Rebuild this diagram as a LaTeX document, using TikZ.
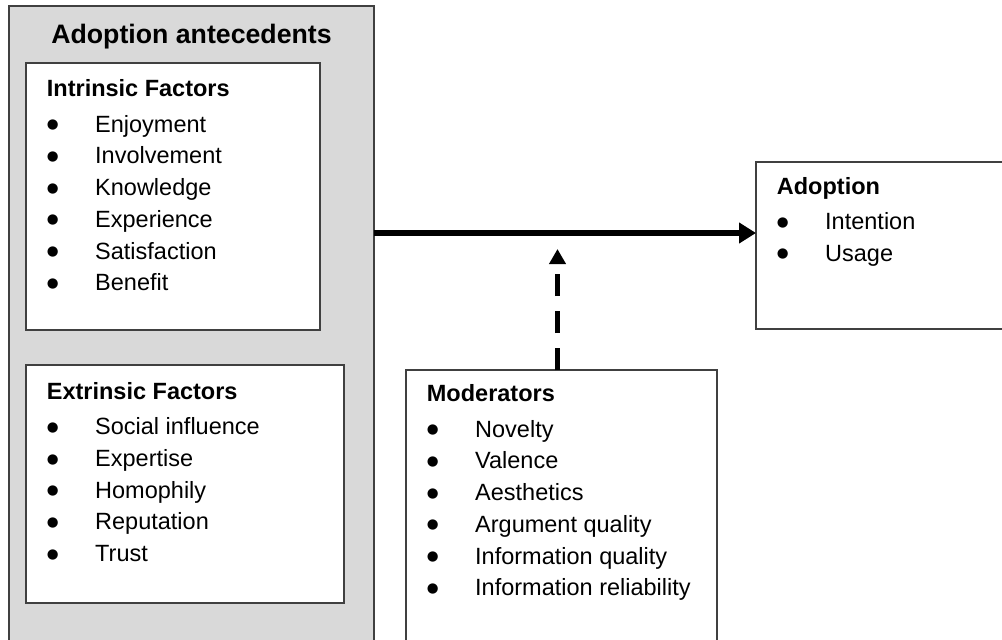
\documentclass[tikz,border=0pt]{standalone}
\usepackage{fontspec}
\setmainfont{Liberation Sans}
\newfontfamily\bulletfont{DejaVu Sans}
\usetikzlibrary{arrows.meta}
\definecolor{boxgray}{RGB}{217,217,217}
\definecolor{edgegray}{RGB}{64,64,64}
\newcommand\blt{\raisebox{3.5pt}{\bulletfont\fontsize{13.5}{13.5}\selectfont ●}}
\newcommand\itemlist[2]{\begin{tabular}[t]{@{}p{48.3pt}@{}l@{}}\multicolumn{2}{@{}l@{}}{\bfseries #1}\\[3.8pt] #2\end{tabular}}
\begin{document}
\begin{tikzpicture}[x=1pt,y=-1pt,
  box/.style={draw=edgegray, line width=1.5pt, fill=white, inner sep=0, outer sep=0, anchor=north west, rectangle},
  lst/.style={inner sep=0, anchor=base west, font=\fontsize{23.5}{31.7}\selectfont},
  ttl/.style={inner sep=0, anchor=base, font=\bfseries\fontsize{26.7}{32}\selectfont},
  mainarrow/.style={line width=5.5pt, -{Triangle[length=17pt,width=20pt]}},
  modarrow/.style={line width=5pt, dash pattern=on 22pt off 15pt, -{Triangle[length=15pt,width=16pt]}}]
\clip (0,0) rectangle (1002,640);
\fill[white] (0,0) rectangle (1002,640);
% outer grey container
\node[box, fill=boxgray, minimum width=365pt, minimum height=660pt] (ante) at (9,6) {};
\node[ttl] (antetitle) at (191.5,43) {Adoption antecedents};
% intrinsic
\node[box, minimum width=294pt, minimum height=267pt] (intr) at (26,63) {};
\node[lst] (intrtext) at (46.7,96.7) {\itemlist{Intrinsic Factors}{\blt & Enjoyment\\ \blt & Involvement\\ \blt & Knowledge\\ \blt & Experience\\ \blt & Satisfaction\\ \blt & Benefit}};
% extrinsic
\node[box, minimum width=318pt, minimum height=238pt] (extr) at (26,365) {};
\node[lst] (extrtext) at (46.7,399.3) {\itemlist{Extrinsic Factors}{\blt & Social influence\\ \blt & Expertise\\ \blt & Homophily\\ \blt & Reputation\\ \blt & Trust}};
% moderators
\node[box, minimum width=311pt, minimum height=290pt] (mod) at (406,370) {};
\node[lst] (modtext) at (426.7,401.7) {\itemlist{Moderators}{\blt & Novelty\\ \blt & Valence\\ \blt & Aesthetics\\ \blt & Argument quality\\ \blt & Information quality\\ \blt & Information reliability}};
% adoption
\node[box, minimum width=254pt, minimum height=167pt] (adopt) at (756,162) {};
\node[lst] (adopttext) at (776.7,194) {\itemlist{Adoption}{\blt & Intention\\ \blt & Usage}};
% connectors
\coordinate (ay) at (0,233);
\coordinate (dtip) at (557.5,249);
\draw[mainarrow] (ante.east |- ay) -- (adopt.west |- ay);
\draw[modarrow] (mod.north -| dtip) -- (dtip);
\end{tikzpicture}
\end{document}
